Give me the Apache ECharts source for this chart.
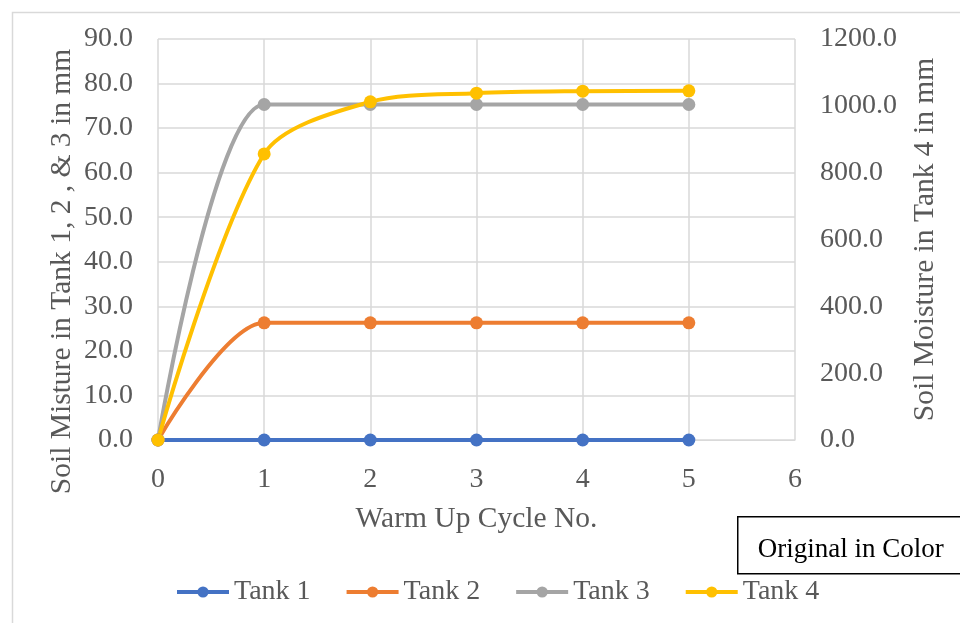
<!DOCTYPE html>
<html>
<head>
<meta charset="utf-8">
<script src="https://cdn.jsdelivr.net/npm/echarts@6/dist/echarts.min.js"></script>
<style>
  html, body { margin: 0; padding: 0; background: #fff; }
  #chart { width: 960px; height: 623px; }
</style>
</head>
<body>
<div id="chart"></div>
<script>
// warm up cycles (x values)
const cycles = [0, 1, 2, 3, 4, 5];
// soil moisture in mm
const tank1 = [0, 0, 0, 0, 0, 0];
const tank2 = [0, 26.3, 26.3, 26.3, 26.3, 26.3];
const tank3 = [0, 75.3, 75.3, 75.3, 75.3, 75.3];
// tank 4 uses the right axis
const tank4 = [0, 856, 1012, 1038, 1044, 1045];

const names = ['Tank 1', 'Tank 2', 'Tank 3', 'Tank 4'];
const colors = ['#4472C4', '#ED7D31', '#A5A5A5', '#FFC000'];

const font = 'Liberation Serif, Times New Roman, serif';
const gray = '#595959';
const fs = 28;
const nameFs = 29.5;

const pairs = arr => cycles.map((c, i) => [c, arr[i]]);

const makeSeries = (name, data, color, yIdx) => ({
  name,
  type: 'line',
  yAxisIndex: yIdx,
  data: pairs(data),
  smooth: 0.3,
  symbol: 'circle',
  symbolSize: 13,
  lineStyle: { width: 4, color },
  itemStyle: { color },
  emphasis: { disabled: true }
});

const chart = echarts.init(document.getElementById('chart'));

const option = {
  animation: false,
  textStyle: { fontFamily: font },
  grid: { left: 158, right: 165, top: 39, bottom: 183 },
  legend: {
    bottom: 12,
    left: 170,
    itemWidth: 52,
    itemHeight: 14,
    itemGap: 34,
    lineStyle: { width: 4 },
    textStyle: { fontSize: fs, color: gray, fontFamily: font },
    data: names
  },
  xAxis: {
    type: 'value',
    min: 0,
    max: 6,
    interval: 1,
    name: 'Warm Up Cycle No.',
    nameLocation: 'middle',
    nameGap: 64,
    nameTextStyle: { fontSize: nameFs, color: gray, fontFamily: font },
    axisLine: { show: true, lineStyle: { color: '#d9d9d9', width: 1 } },
    axisTick: { show: false },
    axisLabel: { fontSize: fs, color: gray, margin: 26, fontFamily: font },
    splitLine: { show: true, lineStyle: { color: '#d9d9d9', width: 1.5 } }
  },
  yAxis: [
    {
      type: 'value',
      min: 0,
      max: 90,
      interval: 10,
      name: 'Soil Misture in Tank 1, 2 , & 3 in mm',
      nameLocation: 'middle',
      nameGap: 81,
      nameMoveOverlap: false,
      nameTextStyle: { fontSize: nameFs, color: gray, fontFamily: font, padding: [0, 64, 0, 0] },
      axisLine: { show: false },
      axisTick: { show: false },
      axisLabel: { fontSize: fs, color: gray, margin: 25, fontFamily: font,
        formatter: v => v.toFixed(1) },
      splitLine: { show: true, lineStyle: { color: '#d9d9d9', width: 1.5 } }
    },
    {
      type: 'value',
      min: 0,
      max: 1200,
      interval: 200,
      name: 'Soil Moisture in Tank 4 in mm',
      nameLocation: 'middle',
      nameGap: 115,
      nameMoveOverlap: false,
      nameTextStyle: { fontSize: nameFs, color: gray, fontFamily: font },
      axisLine: { show: false },
      axisTick: { show: false },
      axisLabel: { fontSize: fs, color: gray, margin: 25, fontFamily: font,
        formatter: v => v.toFixed(1) },
      splitLine: { show: false }
    }
  ],
  graphic: [
    { // outer chart frame
      type: 'rect',
      left: 10, top: 10,
      shape: { width: 980, height: 640 },
      style: { fill: 'none', stroke: '#d9d9d9', lineWidth: 1.5 },
      silent: true
    },
    { // note box
      type: 'group',
      left: 737, top: 516,
      children: [
        {
          type: 'rect',
          shape: { width: 240, height: 57 },
          style: { fill: '#fff', stroke: '#000', lineWidth: 1.5 }
        },
        {
          type: 'text',
          left: 20, top: 20,
          style: { text: 'Original in Color', fill: '#000', fontSize: 27, fontFamily: font }
        }
      ]
    }
  ],
  series: [
    makeSeries(names[0], tank1, colors[0], 0),
    makeSeries(names[1], tank2, colors[1], 0),
    makeSeries(names[2], tank3, colors[2], 0),
    makeSeries(names[3], tank4, colors[3], 1)
  ]
};

chart.setOption(option);
</script>
</body>
</html>
